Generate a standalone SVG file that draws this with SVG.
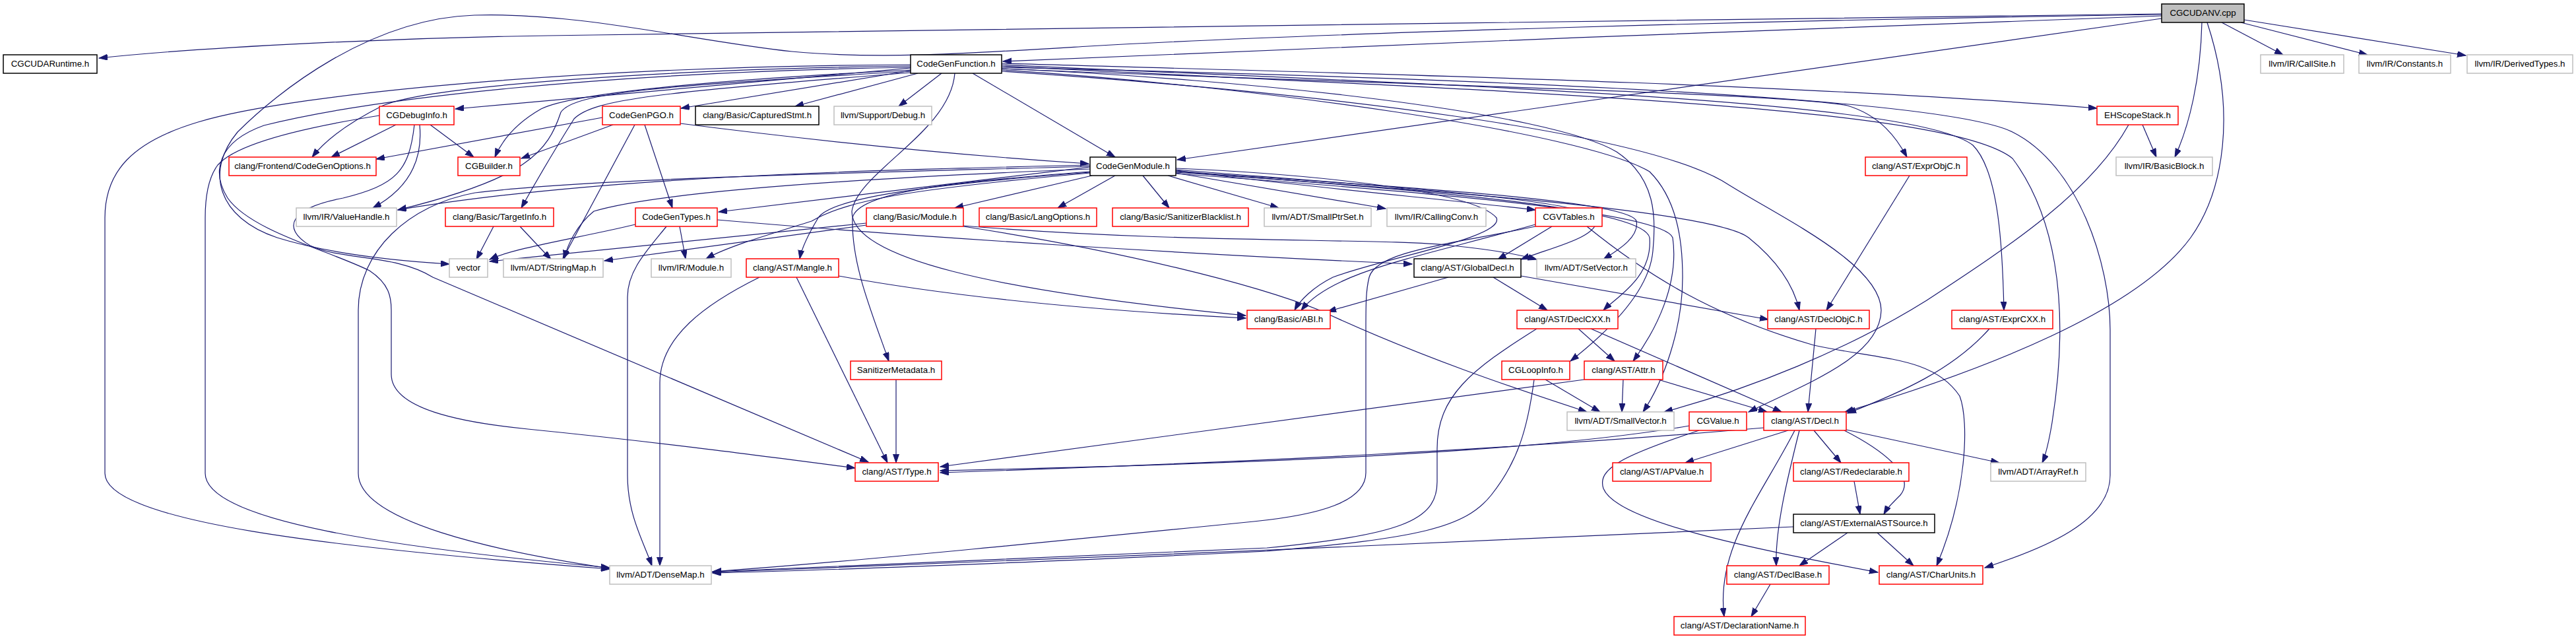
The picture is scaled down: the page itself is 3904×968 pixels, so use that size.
<svg xmlns="http://www.w3.org/2000/svg" width="3904" height="968" viewBox="0 0 3904 968">
<style>
rect{stroke-width:1.5}
.k rect{fill:#ffffff;stroke:#000000}
.r rect{fill:#ffffff;stroke:#ff0000}
.g rect{fill:#ffffff;stroke:#bfbfbf}
.root rect{fill:#bfbfbf;stroke:#000000}
text{font-family:"Liberation Sans",Arial,Helvetica,sans-serif;font-size:13.33px;text-anchor:middle;fill:#000000}
#edges path{fill:none;stroke:#191970;stroke-width:1.2;marker-end:url(#ah)}
</style>
<defs>
<marker id="ah" markerWidth="14" markerHeight="10" refX="13" refY="4.5" orient="auto" markerUnits="userSpaceOnUse">
<path d="M0,0 L13,4.5 L0,9 z" fill="#191970" stroke="#191970" stroke-width="1"/>
</marker>
</defs>
<rect x="0" y="0" width="3904" height="968" fill="#ffffff"/>
<g id="edges">
<path d="M3276,21 C2600,28 1400,48 900,53 C600,56 300,72 150,88"/>
<path d="M3276,24 C2800,38 2000,74 1520,93"/>
<path d="M3276,22 C2700,30 2000,50 1650,70 C1450,82 1330,90 1200,78 C1050,62 880,18 719,23 C560,28 420,140 360,200 C310,260 330,330 420,360 C500,385 600,395 681,400"/>
<path d="M3276,28 L1784,242"/>
<path d="M3337,34 C3335,120 3318,190 3296,238"/>
<path d="M3345,34 C3390,170 3370,290 3320,360 C3240,470 3010,560 2796,624"/>
<path d="M3367,34 L3460,83"/>
<path d="M3396,34 L3588,83"/>
<path d="M3401,30 L3737,84"/>
<path d="M1474,111 L1690,238"/>
<path d="M1427,111 L1362,161"/>
<path d="M1391,111 L1205,161"/>
<path d="M1380,107 L1032,164"/>
<path d="M1380,103 L690,165"/>
<path d="M1380,106 C1100,120 870,140 820,165 C785,185 762,210 750,238"/>
<path d="M1380,100 C1000,105 650,130 580,160 C530,185 495,210 473,238"/>
<path d="M1380,98 C900,100 450,140 300,185 C200,215 159,260 159,330 L159,717 C159,790 500,830 924,862"/>
<path d="M1380,108 C1000,130 870,140 850,170 C830,230 800,270 603,318"/>
<path d="M1380,110 C1000,140 900,150 870,180 C845,220 815,270 790,315"/>
<path d="M1380,102 C900,110 560,150 400,190 C330,215 320,260 345,300 C380,350 500,380 560,410 C590,430 593,450 593,470 L593,567 C593,620 700,640 800,650 C1000,670 1150,690 1296,709"/>
<path d="M1447,111 C1440,200 1300,260 1291,320 C1290,390 1500,440 1888,478"/>
<path d="M1518,104 C1900,120 2350,170 2450,230 C2510,270 2510,330 2505,380 C2500,440 2440,500 2380,547"/>
<path d="M1518,106 C1900,130 2400,200 2500,260 C2540,300 2550,360 2550,420 C2550,500 2520,580 2490,624"/>
<path d="M1518,108 C2000,140 2500,200 2620,280 C2700,330 2850,400 2851,470 C2850,540 2740,580 2650,624"/>
<path d="M1518,96 C2000,110 2700,125 3178,164"/>
<path d="M1518,98 C2200,130 2900,150 2990,220 C3030,260 3035,380 3037,470"/>
<path d="M1518,100 C2300,140 2950,160 3050,240 C3110,320 3140,450 3110,640 C3105,670 3100,690 3095,701"/>
<path d="M1518,102 C2300,120 2950,150 3050,200 C3150,250 3198,400 3198,500 L3198,720 C3198,790 3100,830 3008,860"/>
<path d="M1518,104 C2000,125 2700,140 2800,160 C2850,175 2875,210 2890,238"/>
<path d="M1652,253 L1089,321"/>
<path d="M1655,266 L1447,315"/>
<path d="M1690,266 L1603,315"/>
<path d="M1732,266 L1772,315"/>
<path d="M1770,266 L1938,315"/>
<path d="M1782,262 L2100,316"/>
<path d="M1782,258 C1950,280 2200,303 2327,318"/>
<path d="M1652,250 C1300,258 900,268 603,318"/>
<path d="M1652,252 C1300,262 900,270 720,292 C620,310 543,380 543,470 L543,717 C543,790 750,835 924,861"/>
<path d="M1652,256 C1300,270 1000,290 900,320 C875,340 860,370 855,392"/>
<path d="M1652,262 C1400,285 1290,300 1230,335 C1150,360 1100,375 1070,392"/>
<path d="M1652,261 C1400,280 1260,300 1240,330 C1225,355 1215,375 1212,392"/>
<path d="M1652,260 C1450,275 1300,290 1292,330 C1290,400 1320,470 1347,547"/>
<path d="M1782,255 C1950,262 2230,285 2268,330 C2280,360 2100,390 2020,420 C1990,435 1970,455 1962,470"/>
<path d="M1782,257 C2000,275 2400,300 2420,330 C2425,360 2350,375 2305,393"/>
<path d="M1782,259 C2050,280 2470,300 2480,335 C2485,360 2450,380 2430,393"/>
<path d="M1782,260 C2100,285 2490,310 2500,360 C2505,420 2450,450 2430,470"/>
<path d="M1782,261 C2200,290 2600,320 2650,360 C2700,400 2720,440 2727,470"/>
<path d="M1782,263 C2150,290 2520,320 2535,360 C2545,430 2510,500 2475,547"/>
<path d="M600,189 L502,238"/>
<path d="M652,189 L718,238"/>
<path d="M636,189 C640,230 630,280 565,315"/>
<path d="M575,175 C480,190 360,215 330,250 C315,270 311,300 311,330 L311,717 C311,790 600,830 924,860"/>
<path d="M628,189 C620,260 600,280 520,300 C440,315 425,345 470,372 C520,395 600,385 656,420 L1316,700"/>
<path d="M929,189 L790,240"/>
<path d="M913,178 L570,241"/>
<path d="M1031,187 C1250,215 1450,235 1650,248"/>
<path d="M977,189 L1019,315"/>
<path d="M962,189 L853,392"/>
<path d="M3247,189 L3268,238"/>
<path d="M3226,189 C3170,290 3050,370 2920,455 C2800,530 2650,590 2522,624"/>
<path d="M2894,266 L2768,470"/>
<path d="M748,343 L722,393"/>
<path d="M788,343 L835,393"/>
<path d="M963,340 C880,360 780,375 742,393"/>
<path d="M1087,333 C1400,360 1800,385 2140,400"/>
<path d="M1010,343 C980,380 951,410 951,450 L951,720 C951,780 975,820 988,857"/>
<path d="M1030,343 L1039,392"/>
<path d="M1313,338 L742,396"/>
<path d="M1313,341 L916,395"/>
<path d="M1460,342 C1800,370 2100,360 2200,372 C2260,378 2300,385 2329,393"/>
<path d="M1460,343 C1700,380 1900,430 2000,470 C2150,540 2300,590 2405,624"/>
<path d="M2352,343 L2270,393"/>
<path d="M2327,340 C2150,390 2020,410 1972,470"/>
<path d="M2405,343 C2500,420 2600,480 2749,523 C2850,545 2930,540 2970,600 C2985,640 2980,750 2935,857"/>
<path d="M2327,343 C2200,370 2086,380 2075,420 C2070,440 2070,460 2070,500 L2070,716 C2070,760 2000,780 1900,790 C1600,820 1300,850 1080,866"/>
<path d="M1271,418 C1500,460 1750,475 1888,482"/>
<path d="M1207,420 L1345,701"/>
<path d="M1151,420 C1070,460 1000,510 1000,580 L1000,857"/>
<path d="M2263,420 L2345,470"/>
<path d="M2305,418 L2680,484"/>
<path d="M2195,420 L2012,472"/>
<path d="M2392,498 L2447,547"/>
<path d="M2411,498 L2700,624"/>
<path d="M2329,498 C2230,560 2178,600 2178,680 L2178,730 C2178,790 2120,810 1920,830 C1500,850 1200,862 1080,866"/>
<path d="M2752,498 L2740,624"/>
<path d="M3015,498 C2960,560 2880,595 2800,626"/>
<path d="M1358,575 L1358,701"/>
<path d="M2342,575 L2425,624"/>
<path d="M2325,575 C2315,650 2300,700 2260,750 C2220,800 2150,815 1920,835 C1500,855 1200,865 1080,868"/>
<path d="M2460,575 L2458,624"/>
<path d="M2513,575 L2678,624"/>
<path d="M2401,575 L1425,707"/>
<path d="M2560,645 C2300,690 1800,705 1425,713"/>
<path d="M2575,652 C2460,690 2420,710 2430,740 C2450,790 2650,830 2846,867"/>
<path d="M2710,652 L2554,701"/>
<path d="M2749,652 L2790,701"/>
<path d="M2795,652 C2850,680 2905,720 2880,750 C2865,765 2860,770 2855,779"/>
<path d="M2727,652 C2710,720 2690,800 2692,857"/>
<path d="M2720,652 C2670,750 2600,830 2613,934"/>
<path d="M2673,648 C2300,680 1900,700 1425,716"/>
<path d="M2798,651 L3030,701"/>
<path d="M2810,729 L2819,779"/>
<path d="M2718,798 C2300,820 1500,850 1080,867"/>
<path d="M2800,807 L2727,857"/>
<path d="M2845,807 L2900,857"/>
<path d="M2683,885 L2654,934"/>
</g>
<g id="n_cgcudanv" class="root"><rect x="3276" y="6" width="125" height="28"/><text x="3338.5" y="24">CGCUDANV.cpp</text></g>
<g id="n_cgcudaruntime" class="k"><rect x="5" y="83" width="142" height="28"/><text x="76" y="101">CGCUDARuntime.h</text></g>
<g id="n_codegenfunction" class="k"><rect x="1380" y="83" width="138" height="28"/><text x="1449" y="101">CodeGenFunction.h</text></g>
<g id="n_callsite" class="g"><rect x="3426" y="83" width="126" height="28"/><text x="3489" y="101">llvm/IR/CallSite.h</text></g>
<g id="n_constants" class="g"><rect x="3575" y="83" width="139" height="28"/><text x="3644.5" y="101">llvm/IR/Constants.h</text></g>
<g id="n_derivedtypes" class="g"><rect x="3739" y="83" width="160" height="28"/><text x="3819" y="101">llvm/IR/DerivedTypes.h</text></g>
<g id="n_cgdebuginfo" class="r"><rect x="575" y="161" width="113" height="28"/><text x="631.5" y="179">CGDebugInfo.h</text></g>
<g id="n_codegenpgo" class="r"><rect x="913" y="161" width="118" height="28"/><text x="972" y="179">CodeGenPGO.h</text></g>
<g id="n_capturedstmt" class="k"><rect x="1054" y="161" width="187" height="28"/><text x="1147.5" y="179">clang/Basic/CapturedStmt.h</text></g>
<g id="n_debug" class="g"><rect x="1264" y="161" width="148" height="28"/><text x="1338" y="179">llvm/Support/Debug.h</text></g>
<g id="n_ehscopestack" class="r"><rect x="3178" y="161" width="123" height="28"/><text x="3239.5" y="179">EHScopeStack.h</text></g>
<g id="n_codegenoptions" class="r"><rect x="347" y="238" width="223" height="28"/><text x="458.5" y="256">clang/Frontend/CodeGenOptions.h</text></g>
<g id="n_cgbuilder" class="r"><rect x="694" y="238" width="94" height="28"/><text x="741" y="256">CGBuilder.h</text></g>
<g id="n_codegenmodule" class="k"><rect x="1652" y="238" width="130" height="28"/><text x="1717" y="256">CodeGenModule.h</text></g>
<g id="n_exprobjc" class="r"><rect x="2827" y="238" width="154" height="28"/><text x="2904" y="256">clang/AST/ExprObjC.h</text></g>
<g id="n_basicblock" class="g"><rect x="3207" y="238" width="146" height="28"/><text x="3280" y="256">llvm/IR/BasicBlock.h</text></g>
<g id="n_valuehandle" class="g"><rect x="449" y="315" width="152" height="28"/><text x="525" y="333">llvm/IR/ValueHandle.h</text></g>
<g id="n_targetinfo" class="r"><rect x="675" y="315" width="164" height="28"/><text x="757" y="333">clang/Basic/TargetInfo.h</text></g>
<g id="n_codegentypes" class="r"><rect x="963" y="315" width="124" height="28"/><text x="1025" y="333">CodeGenTypes.h</text></g>
<g id="n_module" class="r"><rect x="1313" y="315" width="147" height="28"/><text x="1386.5" y="333">clang/Basic/Module.h</text></g>
<g id="n_langoptions" class="r"><rect x="1484" y="315" width="178" height="28"/><text x="1573" y="333">clang/Basic/LangOptions.h</text></g>
<g id="n_sanitizerblacklist" class="r"><rect x="1686" y="315" width="206" height="28"/><text x="1789" y="333">clang/Basic/SanitizerBlacklist.h</text></g>
<g id="n_smallptrset" class="g"><rect x="1916" y="315" width="162" height="28"/><text x="1997" y="333">llvm/ADT/SmallPtrSet.h</text></g>
<g id="n_callingconv" class="g"><rect x="2102" y="315" width="150" height="28"/><text x="2177" y="333">llvm/IR/CallingConv.h</text></g>
<g id="n_cgvtables" class="r"><rect x="2327" y="315" width="101" height="28"/><text x="2377.5" y="333">CGVTables.h</text></g>
<g id="n_vector" class="g"><rect x="681" y="392" width="58" height="28"/><text x="710" y="410">vector</text></g>
<g id="n_stringmap" class="g"><rect x="763" y="392" width="151" height="28"/><text x="838.5" y="410">llvm/ADT/StringMap.h</text></g>
<g id="n_irmodule" class="g"><rect x="987" y="392" width="121" height="28"/><text x="1047.5" y="410">llvm/IR/Module.h</text></g>
<g id="n_mangle" class="r"><rect x="1131" y="392" width="140" height="28"/><text x="1201" y="410">clang/AST/Mangle.h</text></g>
<g id="n_globaldecl" class="k"><rect x="2143" y="392" width="162" height="28"/><text x="2224" y="410">clang/AST/GlobalDecl.h</text></g>
<g id="n_setvector" class="g"><rect x="2329" y="392" width="150" height="28"/><text x="2404" y="410">llvm/ADT/SetVector.h</text></g>
<g id="n_abi" class="r"><rect x="1890" y="470" width="126" height="28"/><text x="1953" y="488">clang/Basic/ABI.h</text></g>
<g id="n_declcxx" class="r"><rect x="2299" y="470" width="153" height="28"/><text x="2375.5" y="488">clang/AST/DeclCXX.h</text></g>
<g id="n_declobjc" class="r"><rect x="2679" y="470" width="154" height="28"/><text x="2756" y="488">clang/AST/DeclObjC.h</text></g>
<g id="n_exprcxx" class="r"><rect x="2958" y="470" width="153" height="28"/><text x="3034.5" y="488">clang/AST/ExprCXX.h</text></g>
<g id="n_sanitizermetadata" class="r"><rect x="1289" y="547" width="138" height="28"/><text x="1358" y="565">SanitizerMetadata.h</text></g>
<g id="n_cgloopinfo" class="r"><rect x="2276" y="547" width="103" height="28"/><text x="2327.5" y="565">CGLoopInfo.h</text></g>
<g id="n_attr" class="r"><rect x="2401" y="547" width="119" height="28"/><text x="2460.5" y="565">clang/AST/Attr.h</text></g>
<g id="n_smallvector" class="g"><rect x="2375" y="624" width="162" height="28"/><text x="2456" y="642">llvm/ADT/SmallVector.h</text></g>
<g id="n_cgvalue" class="r"><rect x="2560" y="624" width="87" height="28"/><text x="2603.5" y="642">CGValue.h</text></g>
<g id="n_decl" class="r"><rect x="2673" y="624" width="125" height="28"/><text x="2735.5" y="642">clang/AST/Decl.h</text></g>
<g id="n_type" class="r"><rect x="1296" y="701" width="126" height="28"/><text x="1359" y="719">clang/AST/Type.h</text></g>
<g id="n_apvalue" class="r"><rect x="2444" y="701" width="149" height="28"/><text x="2518.5" y="719">clang/AST/APValue.h</text></g>
<g id="n_redeclarable" class="r"><rect x="2718" y="701" width="175" height="28"/><text x="2805.5" y="719">clang/AST/Redeclarable.h</text></g>
<g id="n_arrayref" class="g"><rect x="3017" y="701" width="144" height="28"/><text x="3089" y="719">llvm/ADT/ArrayRef.h</text></g>
<g id="n_externalastsource" class="k"><rect x="2718" y="779" width="214" height="28"/><text x="2825" y="797">clang/AST/ExternalASTSource.h</text></g>
<g id="n_densemap" class="g"><rect x="924" y="857" width="154" height="28"/><text x="1001" y="875">llvm/ADT/DenseMap.h</text></g>
<g id="n_declbase" class="r"><rect x="2617" y="857" width="155" height="28"/><text x="2694.5" y="875">clang/AST/DeclBase.h</text></g>
<g id="n_charunits" class="r"><rect x="2848" y="857" width="157" height="28"/><text x="2926.5" y="875">clang/AST/CharUnits.h</text></g>
<g id="n_declarationname" class="r"><rect x="2537" y="934" width="199" height="28"/><text x="2636.5" y="952">clang/AST/DeclarationName.h</text></g>
</svg>
